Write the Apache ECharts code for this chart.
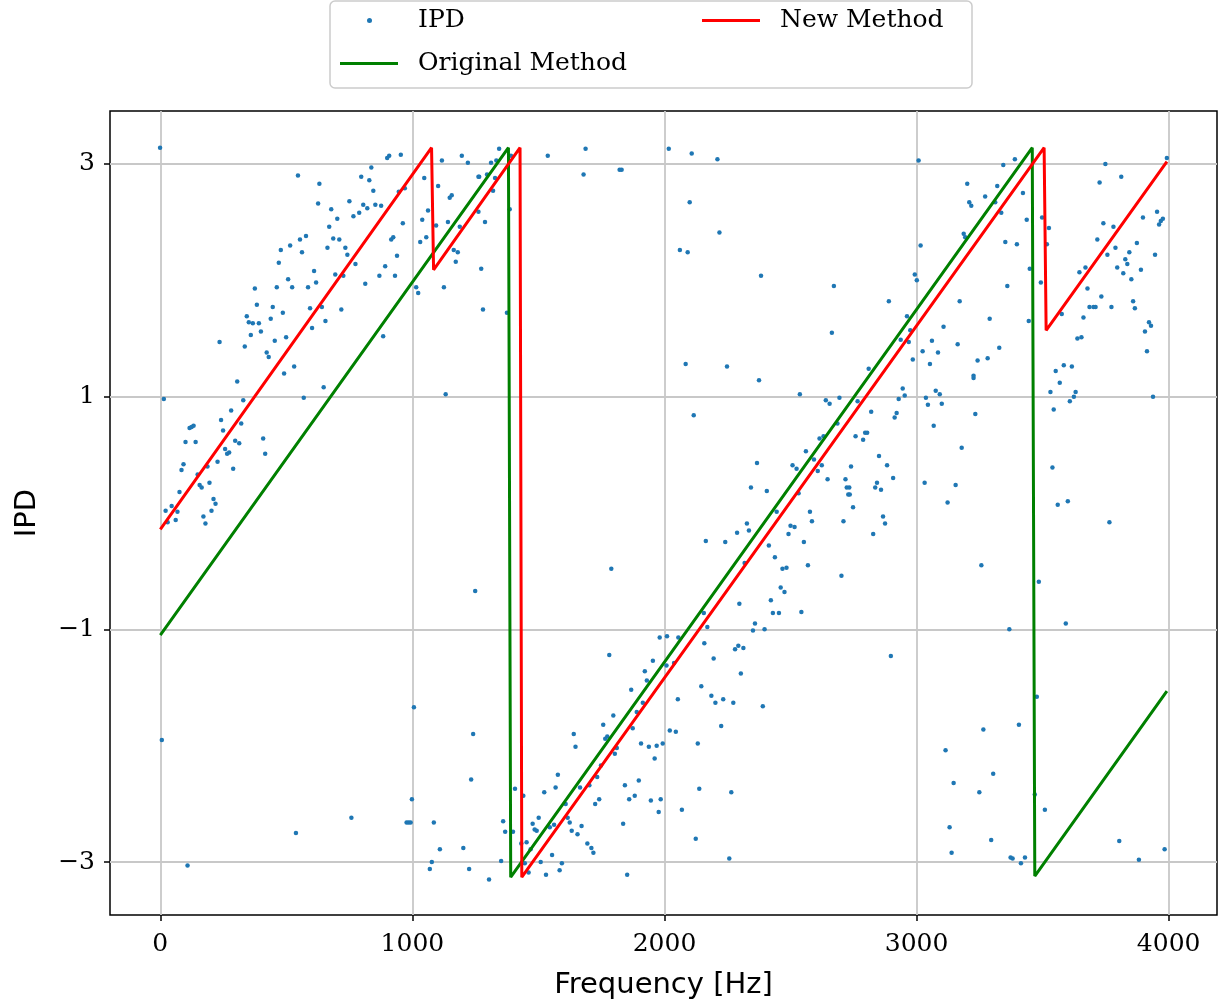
<!DOCTYPE html>
<html>
<head>
<meta charset="utf-8">
<script src="https://cdn.jsdelivr.net/npm/echarts@6/dist/echarts.min.js"></script>
<style>
  html, body { margin: 0; padding: 0; background: #fff; }
  #ipd { width: 1225px; height: 1007px; }
</style>
</head>
<body>
<div id="ipd"></div>
<script>
// measured IPD per frequency bin [Hz, rad]
var ipdPoints = [
  [-1,3.14],[235,1.47],[335,1.43],[343,1.69],[351,1.64],[367,1.63],[375,1.93],[383,1.79],[391,1.63],[399,1.56],
  [359,1.53],[422,1.38],[430,1.34],[438,1.67],[446,1.77],[454,1.48],[462,1.94],[470,2.15],[478,2.26],[486,1.72],
  [491,1.20],[499,1.51],[507,2.01],[515,2.30],[523,1.94],[531,1.26],[546,2.90],[554,2.35],[562,2.24],[578,2.38],
  [586,1.94],[594,1.76],[602,1.59],[610,2.08],[618,1.98],[626,2.66],[631,2.83],[641,1.77],[655,1.65],[663,2.28],
  [670,2.46],[678,2.61],[686,2.36],[694,2.05],[702,2.53],[710,2.35],[718,1.75],[726,2.04],[734,2.28],[742,2.22],
  [750,2.68],[766,2.55],[774,2.14],[789,2.58],[797,2.89],[805,2.65],[813,1.97],[821,2.62],[829,2.86],[837,2.97],
  [845,2.77],[853,2.65],[869,2.04],[876,2.64],[884,1.52],[892,2.12],[900,3.05],[908,3.07],[916,2.35],[924,2.37],
  [931,2.04],[939,2.21],[946,2.76],[954,3.08],[962,2.49],[970,2.79],[1015,1.94],[1023,1.89],[1031,2.33],[1039,2.52],
  [1047,2.88],[1055,2.37],[1062,2.60],[1094,2.47],[1102,2.81],[1117,3.03],[1125,1.94],[1141,2.50],[1148,2.71],[1156,2.73],
  [1164,2.26],[1172,2.16],[1180,2.24],[1188,2.46],[1196,3.07],[1220,3.01],[1262,2.89],[1262,2.59],
  [14,0.98],[305,1.13],[329,0.97],[281,0.88],[241,0.80],[321,0.77],[249,0.71],[116,0.73],[124,0.74],[132,0.75],
  [100,0.61],[140,0.61],[297,0.62],[313,0.60],[257,0.55],[273,0.52],[265,0.51],[92,0.42],[84,0.37],[187,0.40],
  [227,0.44],[289,0.38],[148,0.33],[156,0.24],[164,0.22],[195,0.26],[76,0.18],[211,0.12],[219,0.08],[45,0.06],
  [21,0.02],[68,0.01],[203,0.02],[171,-0.03],[61,-0.06],[29,-0.08],[179,-0.09],[408,0.64],[416,0.51],[569,0.99],
  [648,1.08],[1132,1.02],[1249,-0.67],
  [6,-1.95],[108,-3.03],[538,-2.75],[758,-2.62],[1006,-1.67],[998,-2.46],[977,-2.66],[985,-2.66],[993,-2.66],[1085,-2.66],
  [1109,-2.89],[1077,-3.00],[1069,-3.06],[1202,-2.88],[1225,-3.06],[1233,-2.29],[1241,-1.90],
  [1344,3.13],[1312,3.01],[1333,3.03],[1265,2.89],[1296,2.91],[1328,2.88],[1320,2.77],[1288,2.50],[1273,2.10],[1280,1.75],
  [1375,1.72],[1386,2.61],[1391,3.07],[1537,3.07],[1687,3.13],[1679,2.91],[1822,2.95],[1830,2.95],[2017,3.13],[2108,3.09],
  [2210,3.04],[2100,2.67],[2218,2.41],[2061,2.26],[2092,2.24],[2383,2.04],[2672,1.95],[2664,1.55],[2084,1.28],[2248,1.26],
  [1789,-0.48],[2116,0.84],[2375,1.14],[2537,1.02],[2640,0.97],[2655,0.94],[2694,0.99],[2686,0.77],[2615,0.64],[2631,0.66],
  [2561,0.53],[2593,0.46],[2624,0.41],[2608,0.36],[2508,0.41],[2524,0.38],[2647,0.29],[2718,0.29],[2723,0.22],[2729,0.16],
  [2367,0.43],[2343,0.22],[2406,0.19],[2532,0.17],[2445,0.01],[2577,0.01],[2585,-0.07],[2710,-0.07],[2327,-0.09],[2335,-0.15],
  [2288,-0.17],[2500,-0.11],[2516,-0.12],[2492,-0.18],[2164,-0.24],[2241,-0.25],[2414,-0.28],[2553,-0.25],[2438,-0.38],[2318,-0.43],
  [2468,-0.48],[2484,-0.47],[2569,-0.45],[2702,-0.54],[2461,-0.64],[2476,-0.68],[2422,-0.75],[2297,-0.78],[2156,-0.86],[2430,-0.86],
  [2454,-0.86],[2543,-0.85],[2170,-0.98],[2359,-0.95],[2351,-1.01],[2397,-1.00],[1981,-1.07],[2010,-1.06],[2055,-1.07],[2158,-1.12],
  [2293,-1.14],
  [1781,-1.22],[1954,-1.27],[1922,-1.36],[1930,-1.44],[2008,-1.31],[2038,-1.29],[1868,-1.52],[1914,-1.63],[1890,-1.71],[1797,-1.74],
  [1757,-1.82],[1640,-1.90],[1647,-2.01],[1773,-1.92],[1765,-1.94],[1803,-2.07],[1811,-2.02],[1874,-1.85],[1907,-1.98],[1938,-2.01],
  [1969,-2.00],[1993,-1.98],[1961,-2.11],[1748,-2.17],[1733,-2.27],[1577,-2.25],[1568,-2.36],[1523,-2.40],[1407,-2.37],[1440,-2.43],
  [1665,-2.36],[1702,-2.34],[1741,-2.46],[1725,-2.50],[1608,-2.50],[1843,-2.34],[1898,-2.30],[1860,-2.46],[1882,-2.43],[1946,-2.47],
  [1985,-2.46],[1977,-2.57],[1836,-2.67],[1616,-2.62],[1624,-2.66],[1671,-2.69],[1632,-2.73],[1655,-2.76],[1562,-2.68],[1545,-2.70],
  [1501,-2.62],[1477,-2.67],[1485,-2.72],[1493,-2.73],[1360,-2.65],[1368,-2.74],[1399,-2.74],[1432,-2.84],[1453,-2.83],[1469,-2.89],
  [1694,-2.84],[1710,-2.88],[1718,-2.92],[1554,-2.94],[1593,-3.01],[1509,-3.00],[1352,-2.99],[1446,-3.01],[1461,-3.09],[1530,-3.11],
  [1584,-3.07],[1304,-3.15],[1852,-3.11],[2053,-1.60],[2146,-1.49],[2195,-1.25],[2280,-1.17],[2313,-1.16],[2303,-1.38],[2186,-1.57],
  [2202,-1.63],[2233,-1.60],[2273,-1.63],[2390,-1.66],[2225,-1.83],[2021,-1.87],[2045,-1.88],[2132,-1.98],[2138,-2.37],[2265,-2.40],
  [2069,-2.55],[2124,-2.80],[2257,-2.97],
  [3008,3.03],[3390,3.04],[3344,2.99],[3201,2.83],[3320,2.81],[3272,2.72],[3209,2.67],[3217,2.64],[3312,2.67],[3336,2.58],
  [3422,2.75],[3437,2.52],[3498,2.54],[3525,2.45],[3517,2.31],[3352,2.33],[3398,2.31],[3187,2.40],[3193,2.37],[3016,2.30],
  [2993,2.05],[3001,2.00],[2890,1.82],[2962,1.69],[2975,1.57],[2937,1.49],[2969,1.47],[2985,1.32],[3024,1.39],[3053,1.28],
  [3061,1.48],[3085,1.38],[3107,1.60],[3163,1.45],[3171,1.82],[3226,1.18],[3242,1.31],[3282,1.33],[3290,1.67],[3328,1.42],
  [3360,1.95],[3449,2.10],[3445,1.65],[3493,1.98],[3552,1.22],[3576,1.71],[3584,1.27],[3616,1.26],[3638,1.50],[3654,1.51],
  [3662,1.68],[3670,2.11],[3646,2.07],[3678,1.93],[3686,1.77],[3702,1.77],[3710,1.77],[3733,1.86],[3773,1.77],[3717,2.35],
  [3741,2.49],[3781,2.46],[3726,2.84],[3749,3.00],[3812,2.89],[3789,2.28],[3757,2.22],[3796,2.11],[3820,2.06],[3828,2.18],
  [3836,2.14],[3844,2.24],[3852,2.01],[3859,1.82],[3866,1.76],[3874,2.32],[3890,2.09],[3898,2.54],[3906,1.56],[3914,1.39],
  [3922,1.64],[3930,1.61],[3946,2.22],[3954,2.59],[3962,2.48],[3969,2.51],[3977,2.53],[3993,3.05],[2810,1.24],
  [2766,0.96],[2820,0.87],[2945,1.07],[2953,1.01],[2929,0.98],[2921,0.86],[2913,0.82],[2758,0.66],[2796,0.69],[2804,0.69],
  [2788,0.63],[2851,0.49],[2883,0.41],[2907,0.30],[2740,0.40],[2843,0.26],[2836,0.22],[2859,0.20],[2733,0.22],[2735,0.16],
  [2748,0.05],[2867,-0.03],[2875,-0.09],[2828,-0.18],[3037,0.99],[3045,0.93],[3076,1.05],[3092,1.02],[3100,0.94],[3068,0.75],
  [3226,1.16],[3233,0.85],[3179,0.56],[3032,0.26],[3155,0.24],[3123,0.09],[3257,-0.45],[3368,-1.00],[3485,-0.59],[3592,-0.95],
  [3531,1.04],[3568,1.12],[3631,1.04],[3624,1.00],[3608,0.96],[3544,0.89],[3539,0.39],[3560,0.07],[3600,0.10],[3765,-0.08],
  [3938,1.00],
  [2898,-1.23],[3477,-1.58],[3406,-1.82],[3265,-1.86],[3115,-2.04],[3304,-2.24],[3147,-2.32],[3249,-2.40],[3469,-2.42],[3509,-2.55],
  [3131,-2.70],[3296,-2.81],[3139,-2.92],[3373,-2.96],[3381,-2.97],[3430,-2.96],[3414,-3.01],[3804,-2.82],[3882,-2.98],[3984,-2.89]
];

// fitted phase lines (vertices)
var originalLine = [[0,-1.05],[1381,3.14],[1390,-3.13],[3459,3.14],[3469,-3.12],[3993,-1.53]];
var newLine = [[0,-0.14],[1076,3.14],[1084,2.09],[1427,3.14],[1434,-3.13],[3506,3.14],[3514,1.57],[3993,3.02]];

var xTicks = [0, 1000, 2000, 3000, 4000];
var yTicks = [-3, -1, 1, 3];

var chart = echarts.init(document.getElementById('ipd'));

var serif = 'DejaVu Serif';
var tickStyle = {color: '#000', width: 1.5};
var gridStyle = {color: '#c8c8c8', width: 1.8};

function plain(v) {
    return String(v).replace('-', '\u2212');
}

var option = {
    animation: false,
    backgroundColor: '#fff',
    graphic: [{
        type: 'rect',
        shape: {x: 330, y: 1, width: 642, height: 87, r: 5},
        style: {fill: '#fff', stroke: '#cccccc', lineWidth: 1.5},
        z: 10
    }],
    legend: [
        {data: [{name: 'IPD', icon: 'circle'}], left: 367, top: 8, padding: 0,
         itemWidth: 5, itemHeight: 5, z: 20,
         textStyle: {fontFamily: serif, fontSize: 25, color: '#000', padding: [0, 0, 0, 41]}},
        {data: [{name: 'Original Method', icon: 'rect'}], left: 340, top: 51, padding: 0,
         itemWidth: 58, itemHeight: 3, z: 20,
         textStyle: {fontFamily: serif, fontSize: 25, color: '#000', padding: [0, 0, 0, 15]}},
        {data: [{name: 'New Method', icon: 'rect'}], left: 702, top: 8, padding: 0,
         itemWidth: 58, itemHeight: 3, z: 20,
         textStyle: {fontFamily: serif, fontSize: 25, color: '#000', padding: [0, 0, 0, 15]}}
    ],
    grid: {
        left: 110, top: 111, width: 1107, height: 804,
        show: true, borderColor: '#000', borderWidth: 1.5
    },
    xAxis: {
        type: 'value',
        min: -199.6,
        max: 4191.8,
        name: 'Frequency [Hz]',
        nameLocation: 'middle',
        nameGap: 56,
        nameTextStyle: {fontFamily: 'DejaVu Sans', fontSize: 29, color: '#000'},
        axisLine: {show: false, onZero: false},
        axisTick: {show: true, length: 6, lineStyle: tickStyle, customValues: xTicks},
        axisLabel: {customValues: xTicks, fontFamily: serif, fontSize: 25, color: '#000', margin: 17,
                    formatter: plain},
        splitLine: {show: true, lineStyle: gridStyle}
    },
    yAxis: {
        type: 'value',
        min: -3.455,
        max: 3.455,
        name: 'IPD',
        nameLocation: 'middle',
        nameRotate: 90,
        nameGap: 68,
        nameTextStyle: {fontFamily: 'DejaVu Sans', fontSize: 29, color: '#000'},
        axisLine: {show: false, onZero: false},
        axisTick: {show: true, length: 6, lineStyle: tickStyle, customValues: yTicks},
        axisLabel: {customValues: yTicks, fontFamily: serif, fontSize: 25, color: '#000', margin: 15,
                    formatter: plain},
        splitLine: {show: true, lineStyle: gridStyle}
    },
    series: [
        {
            name: 'IPD',
            type: 'scatter',
            symbol: 'circle',
            symbolSize: 4.5,
            itemStyle: {color: '#1f77b4', opacity: 1},
            data: ipdPoints
        },
        {
            name: 'Original Method',
            type: 'line',
            showSymbol: false,
            symbol: 'none',
            itemStyle: {color: '#008000'},
            lineStyle: {color: '#008000', width: 3},
            data: originalLine
        },
        {
            name: 'New Method',
            type: 'line',
            showSymbol: false,
            symbol: 'none',
            itemStyle: {color: '#ff0000'},
            lineStyle: {color: '#ff0000', width: 3},
            data: newLine
        }
    ]
};

chart.setOption(option);
</script>
</body>
</html>
